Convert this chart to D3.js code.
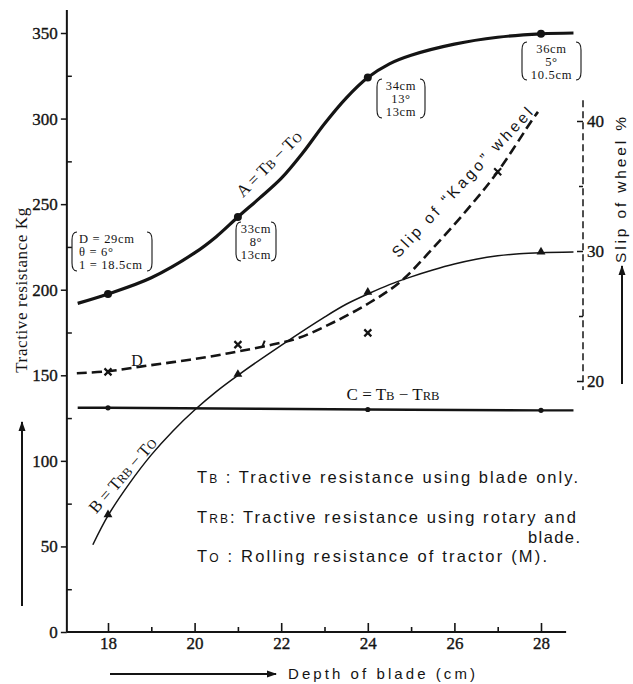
<!DOCTYPE html>
<html>
<head>
<meta charset="utf-8">
<script src="https://cdn.jsdelivr.net/npm/d3@7"></script>
<style>
  html, body { margin: 0; padding: 0; background: #fff; }
  svg { display: block; }
</style>
</head>
<body>
<svg id="chart" width="633" height="684"></svg>
<script>
// ---- measured points -------------------------------------------------
const depths = [18, 21, 24, 28];                 // depth of blade (cm)
const resistA = [197.5, 242.5, 324, 349.5];      // A = TB - TO (kg)
const resistB = [68, 150, 198, 221.5];           // B = TRB - TO (kg)
const depthsC = [18, 24, 28];
const resistC = [131, 130, 129.5];               // C = TB - TRB (kg)
const depthsSlip = [18, 21, 24, 27];
const slipKago = [20.7, 22.8, 23.7, 36.1];       // slip of "Kago" wheel (%)

// ---- faired curves drawn through the points ---------------------------
const curveA = [[17.3,192],[18,197.5],[19,207],[20,221.5],[20.5,231],[21,242.5],[21.5,253.5],[22,265],
  [22.5,280],[23,297],[23.5,312],[24,324],[24.5,332],[25,337],[26,343.5],[27,347.5],[28,349.5],[28.75,350]];
const curveB = [[17.65,51],[18,68],[18.5,87],[19,103.5],[19.5,117.5],[20,129.7],[20.5,140.5],[21,150],
  [22,167.5],[23,184],[23.5,191.5],[24,197.5],[24.5,203],[25,207.5],[25.5,211.5],[26,215],
  [26.5,217.8],[27,219.8],[27.5,221],[28,221.6],[28.75,222]];
const curveC = [[17.3,131],[18,131],[24,130],[28,129.5],[28.75,129.5]];
const curveD = [[17.28,20.6],[18,20.75],[18.74,21.1],[19.5,21.45],[20.3,21.85],[21.05,22.3],
  [21.8,22.8],[22.43,23.35],[23.2,24.5],[24.03,26.0],[24.74,27.6],[25.5,30.2],[26.3,33.2],
  [27.0,36.1],[27.8,40.1],[27.93,40.7]];
const strayDash = [[21.56,22.6],[21.62,23.1]];

// ---- ticks ------------------------------------------------------------
const xMajor = [18, 20, 22, 24, 26, 28];
const xMinor = [19, 21, 23, 25, 27];
const yMajor = [0, 50, 100, 150, 200, 250, 300, 350];
const yMinor = [25, 75, 125, 175, 225, 275, 325];
const slipMajor = [20, 30, 40];
const slipMinor = [25, 35];

// ---- notes (D, theta, l) at each A point ---------------------------------
const noteText = [
  ["D = 29cm", "\u03b8 =  6\u00b0", "1 = 18.5cm"],
  ["33cm", "8\u00b0", "13cm"],
  ["34cm", "13\u00b0", "13cm"],
  ["36cm", "5\u00b0", "10.5cm"]
];

const SERIF = "'Liberation Serif', 'DejaVu Serif', serif";
const SANS = "'Liberation Sans', Arial, sans-serif";
const INK = "#141414";

const svg = d3.select("#chart");

const x = d3.scaleLinear().domain([18, 28]).range([108, 541]);
const yL = d3.scaleLinear().domain([0, 350]).range([632, 33]);
const yR = d3.scaleLinear().domain([20, 40]).range([381, 121]);

const xLeft = x(17.05), xEnd = x(28.58);
const xRightAxis = 583;

function numStyle(sel) {
  sel.attr("font-family", SERIF).attr("font-size", 17).attr("fill", INK)
    .attr("stroke", INK).attr("stroke-width", 0.35);
}

// ---- axes ---------------------------------------------------------------
const gx = svg.append("g").attr("transform", `translate(0,${yL(0)})`);
gx.call(d3.axisBottom(x).tickValues(xMajor).tickSize(-9).tickPadding(5).tickFormat(d3.format("d")));
gx.append("g").call(d3.axisBottom(x).tickValues(xMinor).tickSize(-5).tickFormat(""));
gx.selectAll(".domain").remove();
gx.append("line").attr("x1", xLeft).attr("x2", xEnd).attr("stroke", INK).attr("stroke-width", 2);
gx.selectAll(".tick line").attr("stroke", INK).attr("stroke-width", 1.6);
gx.selectAll(".tick text").call(numStyle);

const gy = svg.append("g").attr("transform", `translate(${xLeft},0)`);
gy.call(d3.axisLeft(yL).tickValues(yMajor).tickSize(6).tickPadding(3).tickFormat(d3.format("d")));
gy.append("g").call(d3.axisLeft(yL).tickValues(yMinor).tickSize(-5).tickFormat(""));
gy.selectAll(".domain").remove();
gy.append("line").attr("y1", yL(0)).attr("y2", 10).attr("stroke", INK).attr("stroke-width", 2);
gy.selectAll(".tick line").attr("stroke", INK).attr("stroke-width", 1.5);
gy.selectAll(".tick text").call(numStyle);

const gr = svg.append("g").attr("transform", `translate(${xRightAxis},0)`);
gr.call(d3.axisRight(yR).tickValues(slipMajor).tickSize(-6).tickPadding(4).tickFormat(d3.format("d")));
gr.append("g").call(d3.axisRight(yR).tickValues(slipMinor).tickSize(-4).tickFormat(""));
gr.selectAll(".domain").remove();
gr.append("line").attr("y1", yR(41.6)).attr("y2", yR(19.3))
  .attr("stroke", INK).attr("stroke-width", 1.5).attr("stroke-dasharray", "7,4");
gr.selectAll(".tick line").attr("stroke", INK).attr("stroke-width", 1.5);
gr.selectAll(".tick text").call(numStyle);

// ---- arrows ---------------------------------------------------------------
const defs = svg.append("defs");
defs.append("marker").attr("id", "head").attr("viewBox", "0 0 10 10")
  .attr("refX", 9).attr("refY", 5).attr("markerWidth", 5).attr("markerHeight", 5)
  .attr("orient", "auto")
  .append("path").attr("d", "M0,1.5 L10,5 L0,8.5 Z").attr("fill", INK);

function arrow(x1, y1, x2, y2) {
  svg.append("line").attr("x1", x1).attr("y1", y1).attr("x2", x2).attr("y2", y2)
    .attr("stroke", INK).attr("stroke-width", 2).attr("marker-end", "url(#head)");
}

// axis titles
svg.append("text").attr("transform", "translate(27,290) rotate(-90)")
  .attr("text-anchor", "middle").attr("font-family", SERIF).attr("font-size", 17)
  .attr("fill", INK).attr("letter-spacing", 0.6).text("Tractive resistance Kg");
arrow(22, 606, 22, 422);

svg.append("text").attr("x", 288).attr("y", 679).attr("font-family", SANS)
  .attr("font-size", 15).attr("fill", INK).attr("textLength", 187).attr("lengthAdjust", "spacing")
  .text("Depth of blade (cm)");
arrow(110, 674, 276, 674);

svg.append("text").attr("transform", "translate(626,190) rotate(-90)")
  .attr("text-anchor", "middle").attr("font-family", SANS).attr("font-size", 15.5)
  .attr("fill", INK).attr("textLength", 146).attr("lengthAdjust", "spacing")
  .text("Slip of wheel %");
arrow(622, 384, 622, 266);

// ---- curves -------------------------------------------------------------
const lineL = d3.line().x(d => x(d[0])).y(d => yL(d[1])).curve(d3.curveCatmullRom.alpha(0.5));
const lineR = d3.line().x(d => x(d[0])).y(d => yR(d[1])).curve(d3.curveCatmullRom.alpha(0.5));

svg.append("path").attr("d", lineL(curveC)).attr("fill", "none").attr("stroke", INK).attr("stroke-width", 2.4);
svg.append("path").attr("d", lineR(curveD)).attr("fill", "none").attr("stroke", INK)
  .attr("stroke-width", 2.6).attr("stroke-dasharray", "10,5");
svg.append("path").attr("d", lineR(strayDash)).attr("fill", "none").attr("stroke", INK).attr("stroke-width", 2);
svg.append("path").attr("d", lineL(curveB)).attr("fill", "none").attr("stroke", INK).attr("stroke-width", 1.5);
svg.append("path").attr("d", lineL(curveA)).attr("fill", "none").attr("stroke", INK).attr("stroke-width", 3.2);

// ---- markers ------------------------------------------------------------
svg.append("g").selectAll("circle").data(depths).join("circle")
  .attr("cx", (d) => x(d)).attr("cy", (d, i) => yL(resistA[i])).attr("r", 4).attr("fill", INK);

svg.append("g").selectAll("circle").data(depthsC).join("circle")
  .attr("cx", (d) => x(d)).attr("cy", (d, i) => yL(resistC[i])).attr("r", 2.6).attr("fill", INK);

svg.append("g").selectAll("path").data(depths).join("path")
  .attr("d", d3.symbol(d3.symbolTriangle).size(34))
  .attr("transform", (d, i) => `translate(${x(d)},${yL(resistB[i]) - 1})`).attr("fill", INK);

svg.append("g").selectAll("path").data(depthsSlip).join("path")
  .attr("d", "M-3.5,-3.5 L3.5,3.5 M-3.5,3.5 L3.5,-3.5")
  .attr("transform", (d, i) => `translate(${x(d)},${yR(slipKago[i])})`)
  .attr("stroke", INK).attr("stroke-width", 2.2).attr("fill", "none");

// ---- curve labels (T with small-cap subscripts) ---------------------------
function capsLabel(parts, tx, ty, angle, size, family) {
  const t = svg.append("text")
    .attr("transform", `translate(${tx},${ty}) rotate(${angle})`)
    .attr("text-anchor", "middle").attr("font-family", family || SERIF)
    .attr("font-size", size).attr("fill", INK);
  parts.forEach(([s, small]) => {
    t.append("tspan").attr("font-size", small ? size * 0.74 : size).text(s);
  });
  return t;
}

capsLabel([["A = T"], ["B", 1], [" \u2212 T"], ["O", 1]], 273, 168, -45, 17);
capsLabel([["B = T"], ["RB", 1], [" \u2212 T"], ["O", 1]], 127, 479, -49, 17);
capsLabel([["C = T"], ["B", 1], [" \u2212 T"], ["RB", 1]], 393, 400, 0, 17);
svg.append("text").attr("x", 137).attr("y", 366).attr("text-anchor", "middle")
  .attr("font-family", SERIF).attr("font-size", 16).attr("fill", INK).text("D");

svg.append("text").attr("transform", "translate(466,186) rotate(-47)")
  .attr("text-anchor", "middle").attr("font-family", SANS).attr("font-size", 15.5)
  .attr("fill", INK).attr("textLength", 198).attr("lengthAdjust", "spacing")
  .text("Slip of \u201cKago\u201d wheel");

// ---- key --------------------------------------------------------------
function keyLine(parts, kx, ky, len) {
  const t = svg.append("text").attr("x", kx).attr("y", ky)
    .attr("font-family", SANS).attr("font-size", 16.5).attr("fill", INK);
  parts.forEach(([s, small]) => t.append("tspan").attr("font-size", small ? 12 : 16.5).text(s));
  if (len) t.attr("textLength", len).attr("lengthAdjust", "spacing");
}
keyLine([["T"], ["B", 1], [" : Tractive resistance  using blade only."]], 197, 483, 381);
keyLine([["T"], ["RB", 1], [": Tractive resistance using rotary and"]], 197, 523, 379);
keyLine([["blade."]], 528, 543, 52);
keyLine([["T"], ["O", 1], [" : Rolling resistance of tractor (M)."]], 197, 562, 350);

// ---- bracketed notes beside the A points ---------------------------------
const noteBoxes = [
  { x0: 72, x1: 152, y0: 232, y1: 271, left: 79 },
  { x0: 236, x1: 276, y0: 222, y1: 261 },
  { x0: 377, x1: 425, y0: 79, y1: 118 },
  { x0: 522, x1: 581, y0: 42, y1: 80 }
];
function bracket(bx, y0, y1, dir) {
  const r = 5;
  return `M${bx + dir * r},${y0} Q${bx},${y0} ${bx},${y0 + r * 1.6} L${bx},${y1 - r * 1.6} Q${bx},${y1} ${bx + dir * r},${y1}`;
}
noteBoxes.forEach((b, i) => {
  const g = svg.append("g");
  g.append("path").attr("d", bracket(b.x0, b.y0, b.y1, 1)).attr("fill", "none").attr("stroke", INK).attr("stroke-width", 1.1);
  g.append("path").attr("d", bracket(b.x1, b.y0, b.y1, -1)).attr("fill", "none").attr("stroke", INK).attr("stroke-width", 1.1);
  noteText[i].forEach((s, j) => {
    g.append("text")
      .attr("x", b.left ? b.left : (b.x0 + b.x1) / 2)
      .attr("y", b.y0 + 11 + j * 12.8)
      .attr("text-anchor", b.left ? "start" : "middle")
      .attr("font-family", SERIF).attr("font-size", 12.5).attr("letter-spacing", 0.7)
      .attr("fill", INK)
      .text(s);
  });
});
</script>
</body>
</html>
